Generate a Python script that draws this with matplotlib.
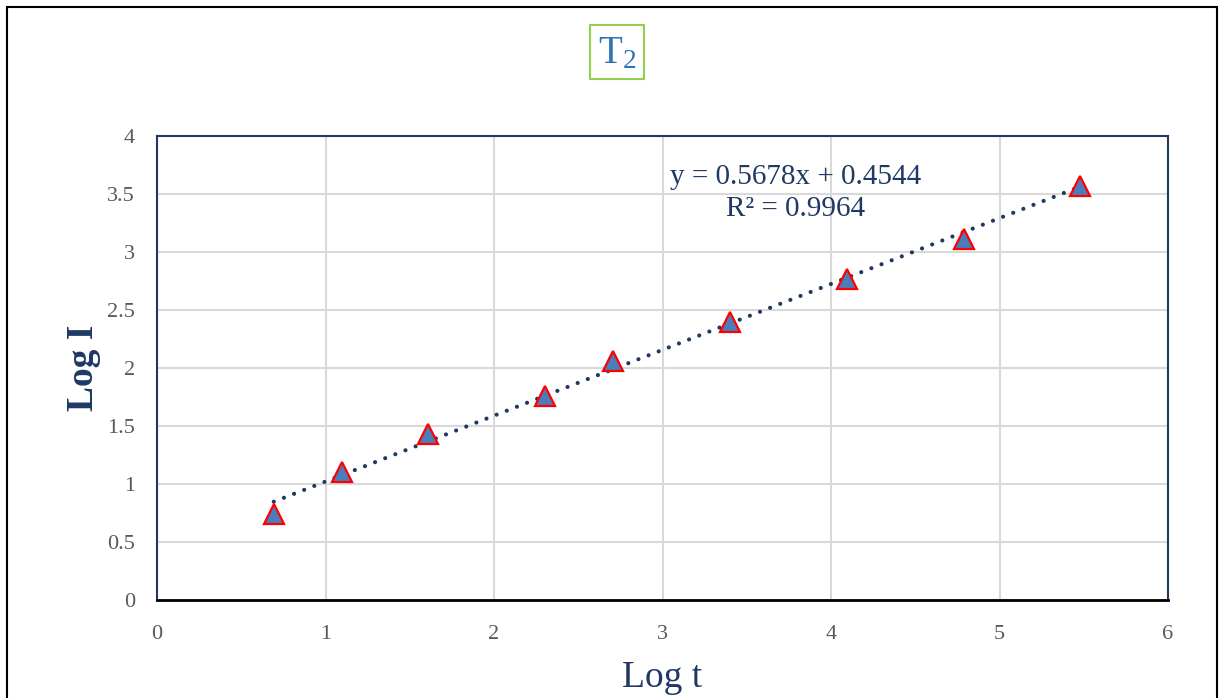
import numpy as np
import matplotlib.pyplot as plt
from matplotlib.patches import Rectangle

log_t = [0.693, 1.099, 1.609, 2.303, 2.708, 3.401, 4.094, 4.787, 5.480]
log_i = [0.74, 1.10, 1.43, 1.76, 2.06, 2.40, 2.77, 3.11, 3.57]
x_ticks = [0, 1, 2, 3, 4, 5, 6]
y_ticks = [0, 0.5, 1, 1.5, 2, 2.5, 3, 3.5, 4]
y_tick_labels = ['0', '0.5', '1', '1.5', '2', '2.5', '3', '3.5', '4']

navy = '#1F3864'
serif = 'Liberation Serif'

plt.rcParams['mathtext.fontset'] = 'custom'
plt.rcParams['mathtext.rm'] = serif
plt.rcParams['mathtext.it'] = serif

fig = plt.figure(figsize=(12.23, 6.98), dpi=100)
ax = fig.add_axes([157 / 1223, 1 - 600 / 698, (1168 - 157) / 1223, (600 - 136) / 698])

# outer frame
fig.patches.append(Rectangle((7 / 1223, -0.01), (1217 - 7) / 1223, 1 - 7 / 698 + 0.01,
                             transform=fig.transFigure, fill=False, edgecolor='black', linewidth=1.5))

ax.grid(True, color='#D9D9D9', linewidth=1.5)
ax.set_axisbelow(True)

# linear trendline
slope, inter = np.polyfit(log_t, log_i, 1)
xs = np.array([log_t[0], log_t[-1]])
ax.plot(xs, slope * xs + inter, linestyle=(0, (0.01, 2.6)), color=navy, linewidth=3,
        dash_capstyle='round', zorder=3)

ax.plot(log_t, log_i, linestyle='none', marker='^', markersize=14,
        markerfacecolor='#4A7EBB', markeredgecolor='#FF0000', markeredgewidth=1.6, zorder=4)

ax.set_xlim(0, 6)
ax.set_ylim(0, 4)
ax.set_xticks(x_ticks)
ax.set_yticks(y_ticks)
ax.set_yticklabels(y_tick_labels)
ax.tick_params(length=0, labelsize=16, labelcolor='#595959')
ax.tick_params(axis='y', pad=16)
ax.tick_params(axis='x', pad=18)
for lab in ax.get_xticklabels() + ax.get_yticklabels():
    lab.set_fontfamily(serif)

for s in ax.spines.values():
    s.set_color(navy)
    s.set_linewidth(1.5)
ax.spines['bottom'].set_color('black')
ax.spines['bottom'].set_linewidth(2)

ax.set_xlabel('Log t', fontsize=27, color=navy, fontfamily=serif, labelpad=12)
ax.set_ylabel('Log I', fontsize=27, color=navy, fontfamily=serif, fontweight='bold', labelpad=4)

ax.text(0.632, 0.878, 'y = 0.5678x + 0.4544\nR² = 0.9964', transform=ax.transAxes,
        ha='center', va='center', fontsize=21, color=navy, fontfamily=serif,
        linespacing=1.3)

fig.text(617 / 1223, 1 - 52 / 698, r'$\mathrm{T}_\mathrm{2}$', ha='center', va='center', fontsize=28,
         color='#2E75B6',
         bbox=dict(boxstyle='square,pad=0.2', facecolor='white', edgecolor='#92D050', linewidth=1.5))

fig.savefig('out.png', dpi=100)
